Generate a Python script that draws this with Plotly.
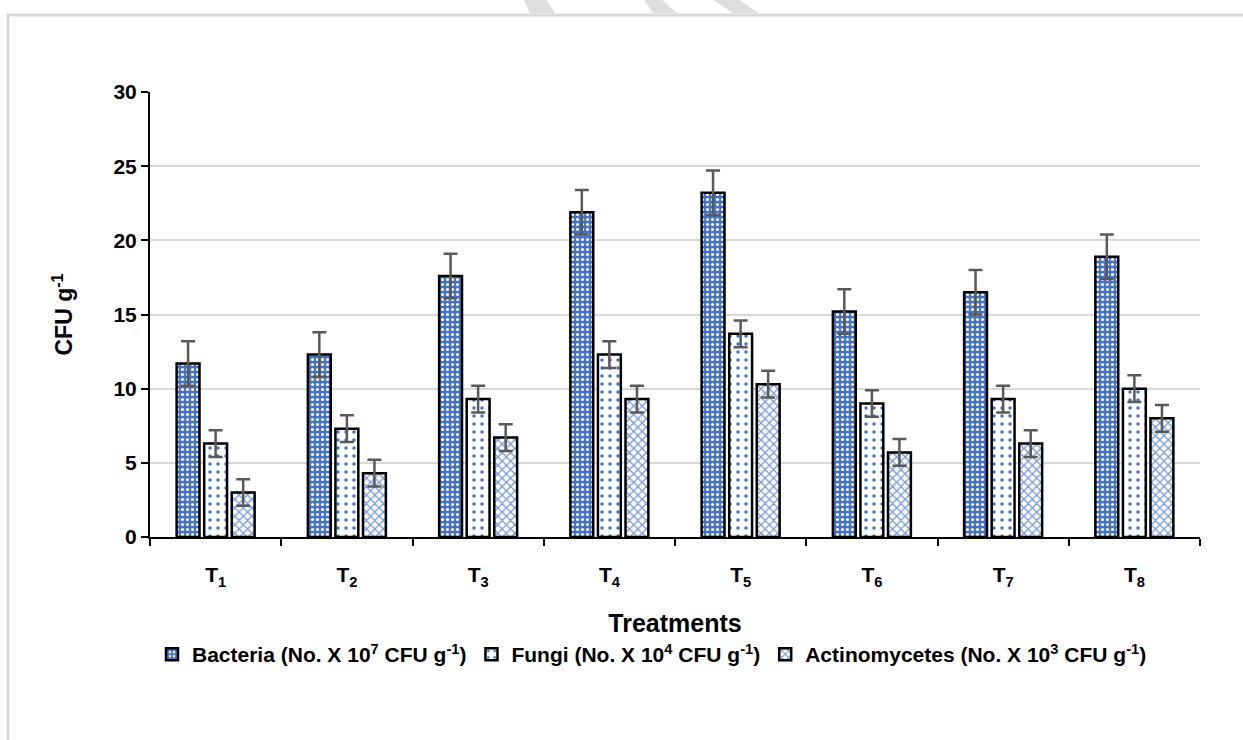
import plotly.graph_objects as go

categories = ["T<sub>1</sub>", "T<sub>2</sub>", "T<sub>3</sub>", "T<sub>4</sub>",
              "T<sub>5</sub>", "T<sub>6</sub>", "T<sub>7</sub>", "T<sub>8</sub>"]
bacteria = [11.7, 12.3, 17.6, 21.9, 23.2, 15.2, 16.5, 18.9]
bacteria_err = [1.5, 1.5, 1.5, 1.5, 1.5, 1.5, 1.5, 1.5]
fungi = [6.3, 7.3, 9.3, 12.3, 13.7, 9.0, 9.3, 10.0]
fungi_err = [0.9, 0.9, 0.9, 0.9, 0.9, 0.9, 0.9, 0.9]
actino = [3.0, 4.3, 6.7, 9.3, 10.3, 5.7, 6.3, 8.0]
actino_err = [0.9, 0.9, 0.9, 0.9, 0.9, 0.9, 0.9, 0.9]
names = ["Bacteria (No. X 10<sup>7</sup> CFU g<sup>-1</sup>)",
         "Fungi (No. X 10<sup>4</sup> CFU g<sup>-1</sup>)",
         "Actinomycetes (No. X 10<sup>3</sup> CFU g<sup>-1</sup>)"]

BLUE = "#4472C4"
err_style = dict(type="data", color="#595959", thickness=2.5, width=7)

W, H = 1243, 740
ML, MR, MT, MB = 150, 43, 92, 203
PW, PH = W - ML - MR, H - MT - MB


def px(x):
    return (x - ML) / PW


def py(y):
    return (H - MB - y) / PH


fig = go.Figure()
fig.add_trace(go.Bar(
    x=categories, y=bacteria, name="<b>" + names[0] + "</b>",
    error_y=dict(array=bacteria_err, **err_style),
    marker=dict(color=BLUE, line=dict(color="black", width=2.5),
                pattern=dict(shape=".", fgcolor="white", bgcolor=BLUE, size=5, solidity=0.3,
                             fillmode="replace")),
))
fig.add_trace(go.Bar(
    x=categories, y=fungi, name="<b>" + names[1] + "</b>",
    error_y=dict(array=fungi_err, **err_style),
    marker=dict(color="white", line=dict(color="black", width=2.5),
                pattern=dict(shape=".", fgcolor=BLUE, bgcolor="white", size=8, solidity=0.15,
                             fillmode="replace")),
))
fig.add_trace(go.Bar(
    x=categories, y=actino, name="<b>" + names[2] + "</b>",
    error_y=dict(array=actino_err, **err_style),
    marker=dict(color="white", line=dict(color="black", width=2.5),
                pattern=dict(shape="x", fgcolor="#7A9BD8", bgcolor="white", size=6, solidity=0.4,
                             fillmode="replace")),
))

frame = dict(type="rect", xref="paper", yref="paper",
             x0=px(8), x1=px(W + 10), y0=py(H + 10), y1=py(15),
             line=dict(color="#D9D9D9", width=3), layer="below")


def stripe(xt0, xt1, xb1, xb0):
    return dict(type="path", xref="paper", yref="paper",
                path=f"M {px(xt0)},{py(-2)} L {px(xt1)},{py(-2)} L {px(xb1)},{py(13)} L {px(xb0)},{py(13)} Z",
                fillcolor="#DEDEDE", line=dict(width=0))


font_family = "Liberation Sans, Arial, sans-serif"
fig.update_layout(
    width=W, height=H,
    margin=dict(l=ML, r=MR, t=MT, b=MB, autoexpand=False),
    paper_bgcolor="white", plot_bgcolor="white",
    barmode="group", bargap=0.37, bargroupgap=0.17,
    font=dict(family=font_family, size=20, color="black"),
    showlegend=True,
    legend=dict(orientation="h", x=px(652), xanchor="center", y=py(634), yanchor="top",
                font=dict(size=21, color="black"), traceorder="normal",
                itemwidth=30),
    xaxis=dict(
        title=dict(text="<b>Treatments</b>", font=dict(size=25), standoff=26),
        tickfont=dict(size=21), showline=True, linecolor="black", linewidth=2,
        ticks="outside", tickson="boundaries", ticklen=7, tickwidth=2, tickcolor="black",
        showgrid=False, ticklabelstandoff=18,
    ),
    yaxis=dict(
        title=dict(text="<b>CFU g<sup>-1</sup></b>", font=dict(size=23), standoff=34),
        range=[0, 30], dtick=5, tickfont=dict(size=21),
        showline=True, linecolor="black", linewidth=2,
        ticks="outside", ticklen=7, tickwidth=2, tickcolor="black",
        showgrid=True, gridcolor="#D9D9D9", gridwidth=2, zeroline=False,
    ),
    shapes=[frame,
            stripe(523, 545, 555, 530),
            stripe(643, 660, 677, 653),
            stripe(710, 737, 758, 733)],
)
fig.update_xaxes(tickprefix="<b>", ticksuffix="</b>")
fig.update_yaxes(tickprefix="<b>", ticksuffix="</b>")

fig.write_html("out.html", config={"displayModeBar": False},
               post_script="document.body.style.margin='0';")
